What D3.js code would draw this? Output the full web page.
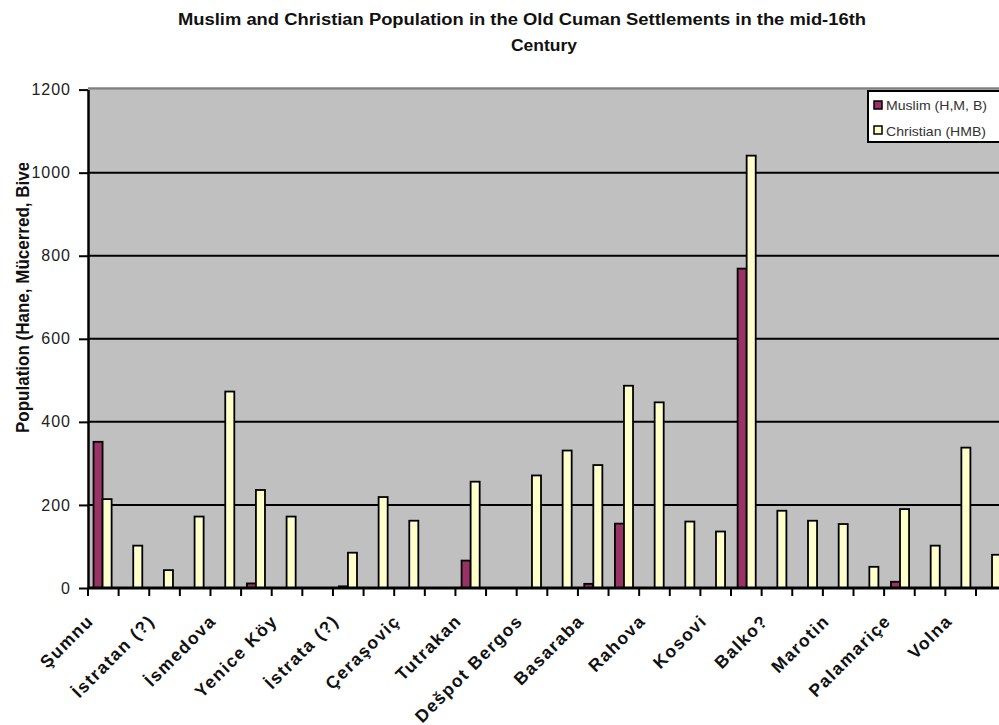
<!DOCTYPE html>
<html><head><meta charset="utf-8">
<script src="https://cdn.jsdelivr.net/npm/d3@7/dist/d3.min.js"></script>
<style>
body{margin:0;background:#fff;overflow:hidden}
svg{display:block;font-family:Arial,"Liberation Sans",sans-serif}
</style>
</head><body>
<svg id="c" width="999" height="725"></svg>
<script>
const categories = ["Şumnu","","İstratan (?)","","İsmedova","","Yenice Köy","","İstrata (?)","",
  "Çeraşoviç","","Tutrakan","","Dešpot Bergos","","Basaraba","","Rahova","",
  "Kosovi","","Balko?","","Marotin","","Palamariçe","","Volna",""];
const muslim = [352,0,0,0,0,11,0,0,4,0, 0,0,66,0,0,0,10,155,0,0, 0,769,0,0,0,0,15,0,0,0];
const christian = [214,102,43,172,473,236,172,0,85,219, 162,0,256,0,271,331,296,487,447,160, 136,1041,186,162,154,51,190,102,338,80];
const seriesNames = ["Muslim (H,M, B)","Christian (HMB)"];
const yTicks = [0,200,400,600,800,1000,1200];
const titleLines = ["Muslim and Christian Population in the Old Cuman Settlements in the mid-16th","Century"];
const yTitle = "Population (Hane, Mücerred, Bive)";

const colors = ["#993366","#ffffcc"];
const svg = d3.select("#c");
const L = 88, R = 1006.6, T = 89.6, B = 588;

const x = d3.scaleBand().domain(d3.range(categories.length)).range([L,R]).paddingInner(0.41).paddingOuter(0.18);
const xs = d3.scaleBand().domain([0,1]).range([0,x.bandwidth()]);
const y = d3.scaleLinear().domain([0,1200]).range([B,T]);
const step = (R-L)/categories.length;

// plot background
svg.append("rect").attr("x",L).attr("y",T).attr("width",R-L).attr("height",B-T).attr("fill","#c0c0c0");
svg.append("line").attr("x1",L).attr("x2",R).attr("y1",T-1).attr("y2",T-1).attr("stroke","#808080").attr("stroke-width",2.5);

// gridlines
svg.append("g").selectAll("line").data(yTicks.filter(v=>v>0&&v<1200)).join("line")
  .attr("x1",L).attr("x2",R).attr("y1",d=>y(d)).attr("y2",d=>y(d))
  .attr("stroke","#000").attr("stroke-width",2);

// bars
const series = [muslim, christian];
series.forEach((vals,si)=>{
  svg.append("g").selectAll("rect").data(vals.map((v,i)=>({v,i})).filter(d=>d.v>0)).join("rect")
    .attr("x",d=>x(d.i)+xs(si))
    .attr("width",xs.bandwidth())
    .attr("y",d=>y(d.v))
    .attr("height",d=>B-y(d.v))
    .attr("fill",colors[si]).attr("stroke","#000").attr("stroke-width",1.8);
});

// x axis
svg.append("line").attr("x1",L).attr("x2",R).attr("y1",B).attr("y2",B).attr("stroke","#000").attr("stroke-width",3);
svg.append("g").selectAll("line").data(d3.range(categories.length+1)).join("line")
  .attr("x1",i=>L+i*step).attr("x2",i=>L+i*step).attr("y1",B).attr("y2",B+8)
  .attr("stroke","#000").attr("stroke-width",2);

// x labels
svg.append("g").selectAll("text").data(categories.map((c,i)=>({c,i})).filter(d=>d.c!=="")).join("text")
  .attr("transform",d=>`translate(${x(d.i)+x.bandwidth()/2-8},622) rotate(-45)`)
  .attr("text-anchor","end")
  .attr("font-size",17.5).attr("font-weight","bold").attr("fill","#111")
  .style("letter-spacing","1.5px")
  .text(d=>d.c);

// y axis
const ya = svg.append("g").attr("transform",`translate(${L},0)`)
  .call(d3.axisLeft(y).tickValues(yTicks).tickSize(9).tickSizeOuter(0).tickPadding(8).tickFormat(d3.format("d")));
ya.select(".domain").attr("stroke","#000").attr("stroke-width",2.5);
ya.selectAll(".tick line").attr("stroke","#000").attr("stroke-width",2);
ya.selectAll(".tick text").attr("font-size",16).attr("fill","#222").attr("font-family","Arial, 'Liberation Sans', sans-serif").style("letter-spacing","1px");

// y title (clipped at the top)
svg.append("clipPath").attr("id","yclip").append("rect").attr("x",0).attr("y",163).attr("width",60).attr("height",600);
const yt = svg.append("g").attr("clip-path","url(#yclip)")
  .append("text")
  .attr("transform","translate(29,433) rotate(-90)")
  .attr("font-size",19).attr("font-weight","bold").attr("fill","#111")
  .text(yTitle);
const natural = yt.node().getComputedTextLength();
yt.attr("textLength",natural*0.895).attr("lengthAdjust","spacingAndGlyphs");

// title
svg.append("text").attr("x",178).attr("y",25).attr("font-size",16).attr("font-weight","bold").attr("fill","#111")
  .attr("textLength",688).attr("lengthAdjust","spacingAndGlyphs").text(titleLines[0]);
svg.append("text").attr("x",511).attr("y",51).attr("font-size",16).attr("font-weight","bold").attr("fill","#111")
  .attr("textLength",66).attr("lengthAdjust","spacingAndGlyphs").text(titleLines[1]);

// legend
const lg = svg.append("g");
lg.append("rect").attr("x",868).attr("y",91).attr("width",132).attr("height",51).attr("fill","#fff").attr("stroke","#000").attr("stroke-width",2);
seriesNames.forEach((n,i)=>{
  lg.append("rect").attr("x",874).attr("y",101+i*25).attr("width",8).attr("height",8)
    .attr("fill",colors[i]).attr("stroke","#000").attr("stroke-width",1.5);
  lg.append("text").attr("x",886).attr("y",110+i*25.5).attr("font-size",13).attr("fill","#333")
    .attr("textLength",i===0?101:100).attr("lengthAdjust","spacingAndGlyphs").text(n);
});
</script>
</body></html>
